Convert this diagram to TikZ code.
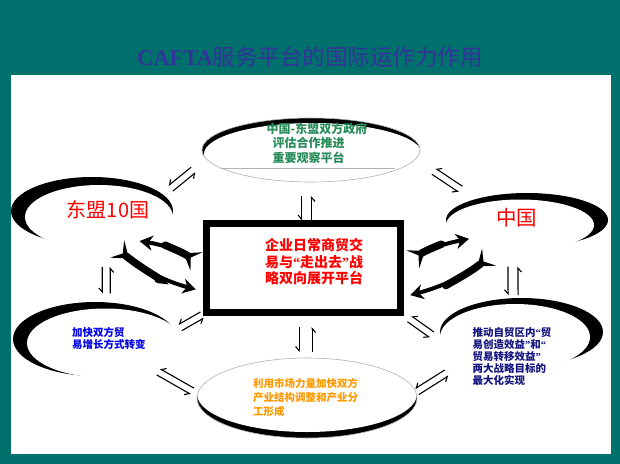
\documentclass[tikz,border=0pt]{standalone}
\usepackage{fontspec}
\setmainfont{Liberation Serif}
\newfontfamily\cjk{Noto Sans CJK SC}
\usetikzlibrary{positioning,shapes.geometric,arrows.meta,calc}

\definecolor{titleblue}{RGB}{51,51,153}
\definecolor{govgreen}{RGB}{40,140,90}
\definecolor{tradeblue}{RGB}{0,0,235}
\definecolor{navytext}{RGB}{20,20,125}
\definecolor{marketorange}{RGB}{255,153,0}
\definecolor{tealdark}{RGB}{0,112,108}
\definecolor{tealbright}{RGB}{0,240,240}

% black crescent = outer ellipse, covered by a shifted white one
\newcommand\crescent[4]{%
  \fill (#1) ellipse (#2);
  \fill[white] (#3) ellipse (#4);}

% pair of harpoons, one each way
\newcommand\twoway[5][3.5]{%
  \draw[harp,shorten <=#4pt,shorten >=#5pt] ($(#2)!#1pt!-90:(#3)$) -- ($(#3)!#1pt!90:(#2)$);
  \draw[harp,shorten <=#5pt,shorten >=#4pt] ($(#3)!#1pt!-90:(#2)$) -- ($(#2)!#1pt!90:(#3)$);}

% narrow quotes
\newcommand\oq{{\rmfamily “}}
\newcommand\cq{{\rmfamily ”}}

\tikzset{
  oval/.style={ellipse,draw=none,inner sep=0pt,outer sep=0pt},
  lbl/.style={inner sep=1pt,align=left},
  harp/.style={line width=1.1pt,-{Straight Barb[harpoon,swap,length=4pt,width=7pt]}},
  sweep/.style={line width=4pt,
    {Stealth[length=15pt,width=22pt,inset=7pt,reversed]}-{Stealth[length=13pt,width=15pt,inset=4pt]}},
  bigarrow/.style 2 args={sweep,
    preaction={draw,arrows=-,line width=7.5pt,line cap=round,shorten <=#1,shorten >=#2}}
}

\begin{document}
\begin{tikzpicture}[x=1pt,y=-1pt]
\useasboundingbox (0,0) rectangle (620,463);
\shade[top color=tealdark,middle color=tealbright,bottom color=tealdark] (0,0) rectangle (620,463);
\fill[white] (11,75) rectangle (611,454);

\node[font=\fontsize{22.5}{26}\selectfont,text=titleblue] (title) at (310,57)
  {\textbf{CAFTA}{\cjk 服务平台的国际运作力作用}};

% crescents
\crescent{311,150}{109 and 32}{313,154}{109 and 31}
\crescent{307,398}{110 and 40}{307,394}{110 and 38}
\crescent{92,211}{81 and 34}{99,217}{74 and 32}
\crescent{527,220}{81 and 27}{520,225}{74 and 25.5}
\crescent{95,339}{82 and 37}{105,343}{78 and 34.5}
\crescent{521.5,332}{81.5 and 34}{515,337}{75 and 33}

% ovals and platform
\node[oval,minimum width=218pt,minimum height=64pt,draw=gray!60,line width=0.6pt] (t) at (311,150) {};
\node[oval,minimum width=162pt,minimum height=68pt] (a) at (92,211) {};
\node[oval,minimum width=162pt,minimum height=54pt] (b) at (527,220) {};
\node[oval,minimum width=164pt,minimum height=74pt] (d) at (95,339) {};
\node[oval,minimum width=163pt,minimum height=68pt] (e) at (521.5,332) {};
\node[oval,minimum width=220pt,minimum height=80pt,draw=gray!60,line width=0.6pt] (m) at (307,398) {};
\node[draw,line width=7pt,minimum width=194pt,minimum height=89pt,inner sep=0pt,outer sep=0pt] (c) at (303.5,268) {};
\draw[gray!60,line width=0.6pt] (220,168) -- (395,168);

% texts
\node[lbl,text=govgreen,font=\cjk\bfseries\fontsize{12}{14.5}\selectfont] (tt) at (317,143)
  {中国-东盟双方政府\\\hspace*{6pt}评估合作推进\\\hspace*{6pt}重要观察平台};
\node[lbl,align=center,text=red,font=\cjk\bfseries\fontsize{14}{16.5}\selectfont] (ct) at (314,262)
  {企业日常商贸交\\易与\oq 走出去\cq 战\\略双向展开平台};
\node[lbl,text=red,font=\cjk\fontsize{20}{24}\selectfont] (at) at (108,210) {东盟10国};
\node[lbl,text=red,font=\cjk\fontsize{20.5}{24}\selectfont] (bt) at (516.5,218) {中国};
\node[lbl,text=tradeblue,font=\cjk\bfseries\fontsize{10.5}{11.5}\selectfont] (dt) at (108.75,338.5)
  {加快双方贸\\易增长方式转变};
\node[lbl,text=navytext,font=\cjk\bfseries\fontsize{10.5}{12.2}\selectfont] (et) at (512,356.5)
  {推动自贸区内\oq 贸\\易创造效益\cq 和\oq\\贸易转移效益\cq\\两大战略目标的\\最大化实现};
\node[lbl,text=marketorange,font=\cjk\bfseries\fontsize{10.5}{14}\selectfont] (mt) at (305.5,397)
  {利用市场力量加快双方\\产业结构调整和产业分\\工形成};

% two-way links
\twoway{t.185}{a.13}{17}{10}
\twoway{t.355}{b.158}{22}{18}
\twoway[5]{t.262}{t.262 |- c.north}{14}{3}
\twoway[4]{a.293}{d.73}{22.5}{9}
\twoway[5]{b.242}{e.104}{20}{3}
\twoway{c.south west}{d.6}{5}{6}
\twoway{d.333}{m.178}{10.5}{6}
\twoway{c.south east}{e.190}{11}{18}
\twoway{m.3}{e.207}{1.3}{27.5}
\twoway[6.5]{c.south -| m.92}{m.92}{14.5}{6}

% big arrows
\draw[bigarrow={23pt}{32pt},shorten <=12pt,shorten >=6pt] (c.west) to[bend right=12] (a.-35);
\draw[bigarrow={19pt}{50pt},shorten <=8pt,shorten >=11pt] (a.-60) to[bend right=12] (c.194);
\draw[bigarrow={26pt}{28pt},shorten <=15pt] (c.east) to[bend left=12] (b.198);
\draw[bigarrow={29pt}{47pt},shorten <=18pt,shorten >=10pt] (b.227) to[bend left=12] (c.-17);
\end{tikzpicture}
\end{document}
